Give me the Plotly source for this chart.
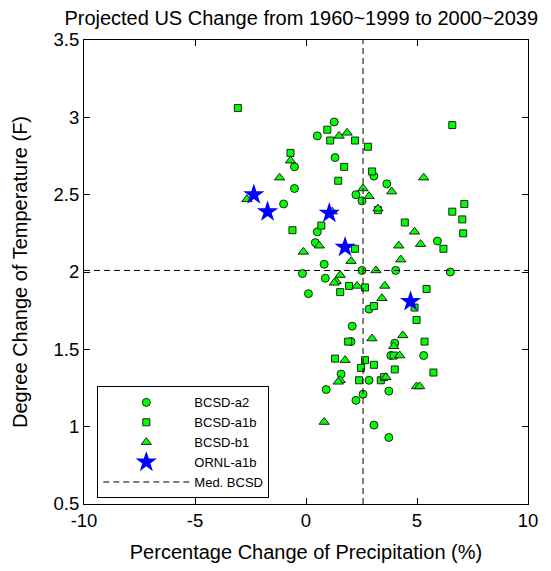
import plotly.graph_objects as go

# BCSD-a2 (circles)
a2_x = [1.27, 0.51, 1.31, -0.52, -0.52, -1.01, 0.51, 0.42, 0.82, -0.16, 0.87, 0.11,
        3.06, 3.64, 2.25, 2.52, 5.92, 2.52, 4.04, 6.50, 2.84, 2.08, 2.03, 4.00,
        3.82, 5.30, 1.58, 2.84, 0.91, 2.57, 3.73, 2.25, 3.06, 3.73]
a2_y = [2.97, 2.88, 2.74, 2.68, 2.54, 2.44, 2.26, 2.19, 2.05, 1.99, 1.96, 1.86,
        2.62, 2.57, 2.50, 2.46, 2.20, 2.01, 2.01, 2.00, 1.76, 1.65, 1.55, 1.54,
        1.46, 1.46, 1.34, 1.30, 1.24, 1.21, 1.23, 1.17, 1.01, 0.93]

# BCSD-a1b (squares)
a1b_x = [-3.07, 0.96, 1.09, -0.70, 1.72, 1.45, 2.21, 2.79, 6.59, 2.97, 3.24, 7.13,
         6.59, 7.04, 7.08, 4.45, 6.19, 2.21, 0.69, -0.61, 1.94, 2.66, 1.54, 5.43,
         3.06, 4.89, 4.98, 1.90, 5.34, 3.95, 1.31, 2.66, 2.48, 3.06, 4.00, 5.74,
         2.39, 3.37, 3.51]
a1b_y = [3.06, 2.92, 2.85, 2.77, 2.68, 2.59, 2.85, 2.81, 2.95, 2.65, 2.40, 2.44,
         2.39, 2.34, 2.25, 2.32, 2.15, 2.15, 2.30, 2.27, 1.91, 1.90, 1.87, 1.89,
         1.78, 1.77, 1.69, 1.55, 1.55, 1.46, 1.44, 1.43, 1.38, 1.40, 1.37, 1.35,
         1.30, 1.30, 1.32]

# BCSD-b1 (triangles)
b1_x = [1.49, 1.85, -0.70, -1.19, -2.66, 1.18, 2.57, 2.84, 3.86, 3.24, 5.30, 4.89,
        4.18, 5.16, 4.27, 2.03, 0.60, -0.12, 3.15, 1.54, 1.36, 1.27, 2.30, 3.55,
        3.42, 2.97, 4.36, 4.22, 3.95, 1.76, 3.60, 1.54, 1.45, 4.98, 5.12, 0.82]
b1_y = [2.88, 2.90, 2.72, 2.61, 2.47, 2.39, 2.54, 2.49, 2.52, 2.41, 2.61, 2.26,
        2.17, 2.18, 2.08, 2.07, 2.17, 2.13, 2.01, 1.98, 1.94, 1.93, 1.91, 1.91,
        1.83, 1.57, 1.59, 1.46, 1.52, 1.43, 1.32, 1.30, 1.29, 1.26, 1.26, 1.03]

# ORNL-a1b (stars)
ornl_x = [-2.35, -1.73, 1.05, 1.76, 4.71]
ornl_y = [2.50, 2.39, 2.38, 2.16, 1.81]

# Median of BCSD
med_x = 2.57
med_y = 2.01

x_range = [-10, 10]
y_range = [0.5, 3.5]
x_ticks = [-10, -5, 0, 5, 10]
y_ticks = [0.5, 1, 1.5, 2, 2.5, 3, 3.5]
x_ticklabels = ["-10", "-5", "0", "5", "10"]
y_ticklabels = ["0.5", "1", "1.5", "2", "2.5", "3", "3.5"]

FONT = "Liberation Sans, Arial, Helvetica, sans-serif"
GREEN = "#00ff00"
EDGE = "#222222"

fig = go.Figure()
fig.add_trace(go.Scatter(x=a2_x, y=a2_y, mode="markers", name="BCSD-a2",
                         marker=dict(symbol="circle", size=8, color=GREEN,
                                     line=dict(color=EDGE, width=1))))
fig.add_trace(go.Scatter(x=a1b_x, y=a1b_y, mode="markers", name="BCSD-a1b",
                         marker=dict(symbol="square", size=7, color=GREEN,
                                     line=dict(color=EDGE, width=1))))
fig.add_trace(go.Scatter(x=b1_x, y=b1_y, mode="markers", name="BCSD-b1",
                         marker=dict(symbol="triangle-up", size=9, color=GREEN,
                                     line=dict(color=EDGE, width=1))))
fig.add_trace(go.Scatter(x=ornl_x, y=ornl_y, mode="markers", name="ORNL-a1b",
                         marker=dict(symbol="star", size=16, color="#0000ff",
                                     line=dict(width=0))))
fig.add_trace(go.Scatter(x=[med_x, med_x, None, x_range[0], x_range[1]],
                         y=[y_range[0], y_range[1], None, med_y, med_y],
                         mode="lines", name="Med. BCSD",
                         line=dict(color="black", width=1, dash="6px,4px")))

axis_common = dict(showgrid=False, zeroline=False, showline=True, linecolor="black",
                   linewidth=1, mirror="ticks", ticks="inside", ticklen=6,
                   tickcolor="black", tickfont=dict(size=18.5, color="black", family=FONT))

fig.update_layout(
    width=543, height=563,
    margin=dict(l=73, r=23, t=32, b=66),
    paper_bgcolor="white", plot_bgcolor="white",
    font=dict(family=FONT, color="black"),
    title=dict(text="Projected US Change from 1960~1999 to 2000~2039",
               x=0.54, xanchor="center", y=0.982, yanchor="middle",
               font=dict(size=20, color="black", family=FONT)),
    xaxis=dict(range=x_range, tickvals=x_ticks, ticktext=x_ticklabels,
               title=dict(text="Percentage Change of Precipitation (%)",
                          font=dict(size=20, color="black", family=FONT), standoff=14),
               **axis_common),
    yaxis=dict(range=y_range, tickvals=y_ticks, ticktext=y_ticklabels,
               title=dict(text="Degree Change of Temperature (F)",
                          font=dict(size=20, color="black", family=FONT), standoff=20),
               **axis_common),
    legend=dict(x=0.03, y=0.012, xanchor="left", yanchor="bottom",
                bgcolor="white", bordercolor="black", borderwidth=1,
                font=dict(size=13, color="black", family=FONT),
                itemwidth=86, tracegroupgap=0),
    showlegend=True,
)

fig.write_html("out.html")
